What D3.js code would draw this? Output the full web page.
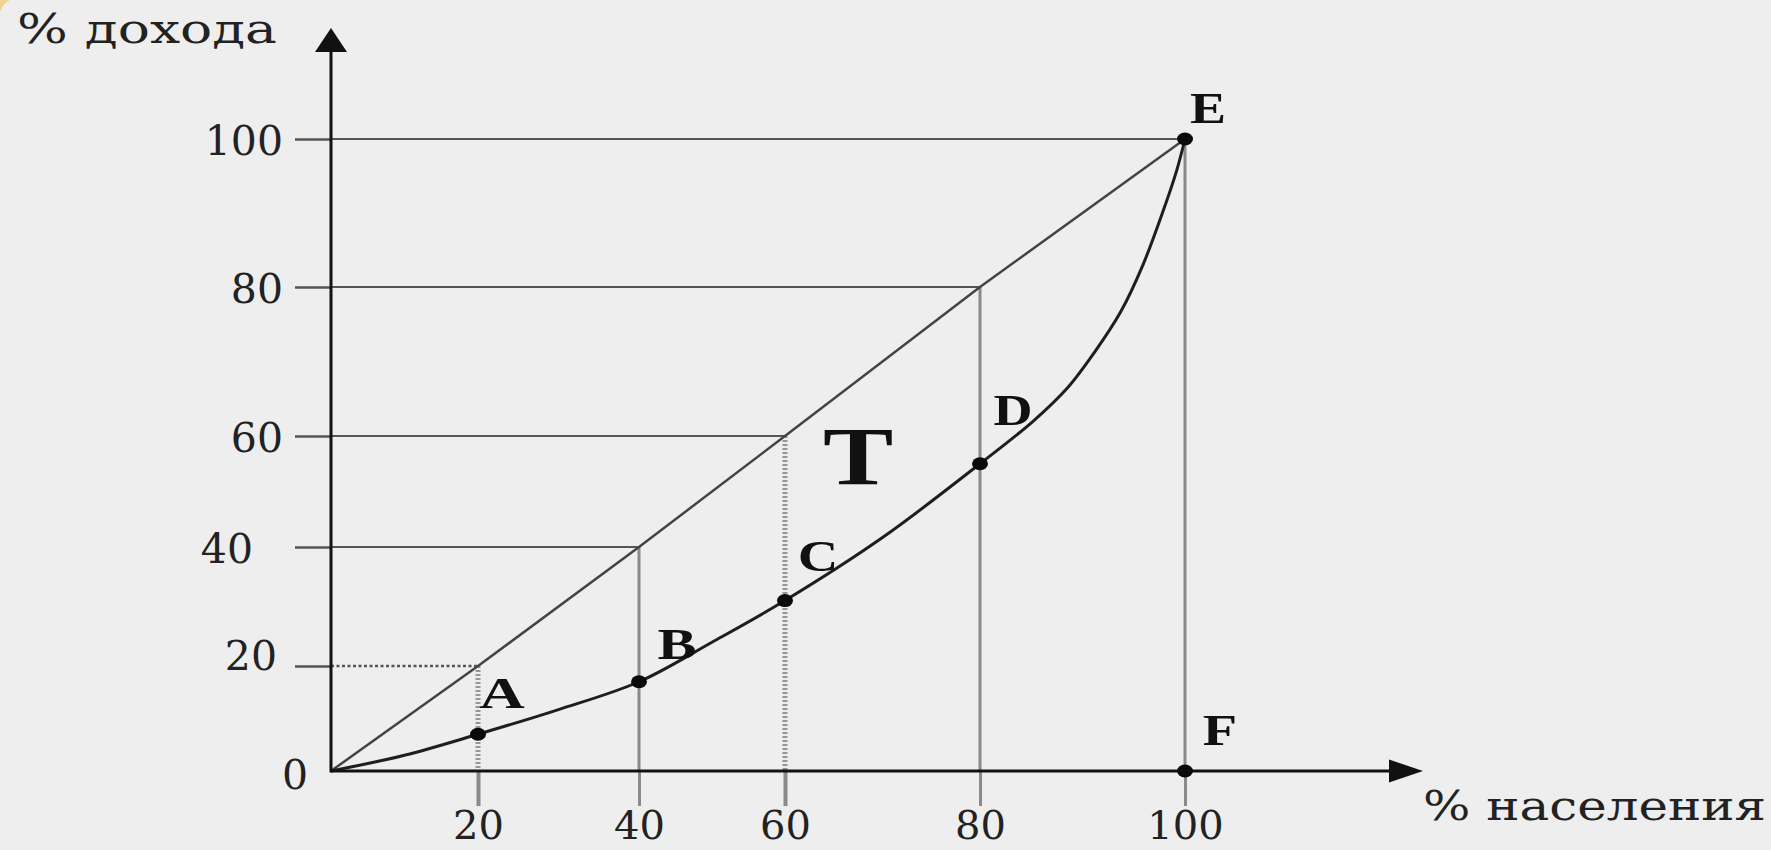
<!DOCTYPE html>
<html><head><meta charset="utf-8">
<script src="https://cdn.jsdelivr.net/npm/d3@7"></script>
<style>html,body{margin:0;padding:0;background:#eeeeee;overflow:hidden}svg{display:block}</style>
</head><body>
<svg id="chart" width="1771" height="850"></svg>
<script>
// ---------- data ----------
const xTicks = [20, 40, 60, 80, 100];
const yTicks = [0, 20, 40, 60, 80, 100];
const equalityShares = [0, 20, 40, 60, 80, 100];
const curvePopulation = [0, 10, 20, 30, 40, 50, 60, 70, 80, 85.2, 88.5, 91.2, 93.7, 95.9, 97.9, 99.2, 100];
const curveIncome     = [0, 3, 7, 11.7, 17, 24, 31, 41.7, 55, 62.0, 66.4, 71.3, 76.6, 83.0, 90.4, 95.8, 100];
const pointNames      = ["A", "B", "C", "D", "E", "F"];
const pointPopulation = [20, 40, 60, 80, 100, 100];
const pointIncome     = [7, 17, 31, 55, 100, 0];
const areaName = "T";
const areaPopulation = 67.5;
const areaIncome = 51.4;
const yTitle = "% дохода";
const xTitle = "% населения";

// ---------- layout ----------
const svg = d3.select("#chart");
const x = d3.scaleLinear().domain([0, 20, 40, 60, 80, 100]).range([331, 478, 639, 785, 980, 1185]);
const y = d3.scaleLinear().domain([0, 20, 40, 60, 80, 100]).range([771, 666, 547, 436, 287, 139]);
const NUM_FONT = "'DejaVu Serif', 'Liberation Serif', serif";
const BOLD_FONT = "'Liberation Serif', 'DejaVu Serif', serif";
const dottedX = new Set([20, 60]);
const dottedY = new Set([20]);
const yLabelShift = {0: 25, 20: -6, 40: -30};
const yLabelBase = {0: 17, 20: 3};
const labelOffset = {A: [24, -26], B: [38, -23], C: [33, -30], D: [33, -39], E: [23, -16], F: [35, -26]};
const labelStretch = {A: 1.4, B: 1.3, C: 1.25, D: 1.2, E: 1.2, F: 1.25};

svg.append("rect").attr("width", 1771).attr("height", 850).attr("fill", "#eeeeee");
svg.append("path").attr("d", "M0,0 L10,0 Q3,3 0,12 Z").attr("fill", "#f0d48a");

// horizontal guide lines (axis -> diagonal)
svg.append("g").selectAll("line").data(yTicks.filter(v => v > 0)).join("line")
  .attr("x1", x(0)).attr("x2", v => x(v))
  .attr("y1", v => y(v)).attr("y2", v => y(v))
  .attr("stroke", v => dottedY.has(v) ? "#555" : "#555")
  .attr("stroke-width", v => dottedY.has(v) ? 2.5 : 2)
  .attr("stroke-dasharray", v => dottedY.has(v) ? "3,2.5" : null);

// vertical guide lines (diagonal -> axis)
svg.append("g").selectAll("line").data(xTicks).join("line")
  .attr("x1", v => x(v)).attr("x2", v => x(v))
  .attr("y1", v => y(v)).attr("y2", y(0))
  .attr("stroke", v => dottedX.has(v) ? "#959595" : "#8a8a8a")
  .attr("stroke-width", v => dottedX.has(v) ? 5 : 3)
  .attr("stroke-dasharray", v => dottedX.has(v) ? "2,2" : null);

// x axis ticks + labels
const gx = svg.append("g").attr("transform", `translate(0,${y(0)})`)
  .call(d3.axisBottom(x).tickValues(xTicks).tickSize(35).tickFormat(d3.format("d")));
gx.select(".domain").remove();
gx.attr("font-family", null).attr("font-size", null);
gx.selectAll(".tick line").attr("stroke", "#8a8a8a").attr("stroke-width", v => dottedX.has(v) ? 4 : 3);
gx.selectAll(".tick text").attr("y", 68).attr("dy", null)
  .attr("font-family", NUM_FONT).attr("font-size", 40).attr("fill", "#222");

// y axis ticks + labels
const gy = svg.append("g").attr("transform", `translate(${x(0)},0)`)
  .call(d3.axisLeft(y).tickValues(yTicks).tickSize(36).tickFormat(d3.format("d")));
gy.select(".domain").remove();
gy.attr("font-family", null).attr("font-size", null);
gy.selectAll(".tick line").attr("stroke", "#555").attr("stroke-width", 2.5)
  .attr("display", v => v === 0 ? "none" : null);
gy.selectAll(".tick text")
  .attr("x", v => -48 + (yLabelShift[v] || 0))
  .attr("dy", v => (yLabelBase[v] !== undefined ? yLabelBase[v] : 15))
  .attr("font-family", NUM_FONT).attr("font-size", 41).attr("fill", "#222");

// diagonal (line of equality)
svg.append("path").datum(equalityShares)
  .attr("d", d3.line().x(d => x(d)).y(d => y(d)))
  .attr("fill", "none").attr("stroke", "#444").attr("stroke-width", 2.5);

// Lorenz curve
svg.append("path").datum(curvePopulation.map((p, i) => [p, curveIncome[i]]))
  .attr("d", d3.line().x(d => x(d[0])).y(d => y(d[1])).curve(d3.curveCatmullRom.alpha(0.5)))
  .attr("fill", "none").attr("stroke", "#1e1e1e").attr("stroke-width", 3);

// main axes with arrows
svg.append("line").attr("x1", x(0)).attr("x2", x(0)).attr("y1", y(0) + 1.5).attr("y2", 50)
  .attr("stroke", "#111").attr("stroke-width", 3);
svg.append("path").attr("d", `M${x(0)},28 L${x(0) + 16},52 L${x(0) - 16},52 Z`).attr("fill", "#111");
svg.append("line").attr("x1", x(0)).attr("x2", 1392).attr("y1", y(0)).attr("y2", y(0))
  .attr("stroke", "#111").attr("stroke-width", 3);
svg.append("path").attr("d", `M1423,${y(0)} L1389,${y(0) - 11.5} L1389,${y(0) + 11.5} Z`).attr("fill", "#111");

// points
const pts = pointNames.map((n, i) => ({name: n, p: pointPopulation[i], v: pointIncome[i]}));
svg.append("g").selectAll("ellipse").data(pts).join("ellipse")
  .attr("cx", d => x(d.p)).attr("cy", d => y(d.v))
  .attr("rx", 8).attr("ry", 6.5).attr("fill", "#0a0a0a");

// point labels
svg.append("g").selectAll("text").data(pts).join("text")
  .attr("transform", d => `translate(${x(d.p) + labelOffset[d.name][0]},${y(d.v) + labelOffset[d.name][1]}) scale(${labelStretch[d.name]},1)`)
  .attr("text-anchor", "middle")
  .attr("font-family", BOLD_FONT).attr("font-weight", "bold").attr("font-size", 45)
  .attr("fill", "#111").text(d => d.name);

// area label
svg.append("text")
  .attr("transform", `translate(${x(areaPopulation)},${y(areaIncome)}) scale(1.27,1)`)
  .attr("text-anchor", "middle")
  .attr("font-family", BOLD_FONT).attr("font-weight", "bold").attr("font-size", 83)
  .attr("fill", "#111").text(areaName);

// axis titles
svg.append("text").attr("x", 17).attr("y", 43)
  .attr("font-family", NUM_FONT).attr("font-size", 41).attr("fill", "#222")
  .attr("textLength", 260).attr("lengthAdjust", "spacingAndGlyphs").text(yTitle);
svg.append("text").attr("x", 1423).attr("y", 820)
  .attr("font-family", NUM_FONT).attr("font-size", 41).attr("fill", "#222")
  .attr("textLength", 343).attr("lengthAdjust", "spacingAndGlyphs").text(xTitle);
</script>
</body></html>
